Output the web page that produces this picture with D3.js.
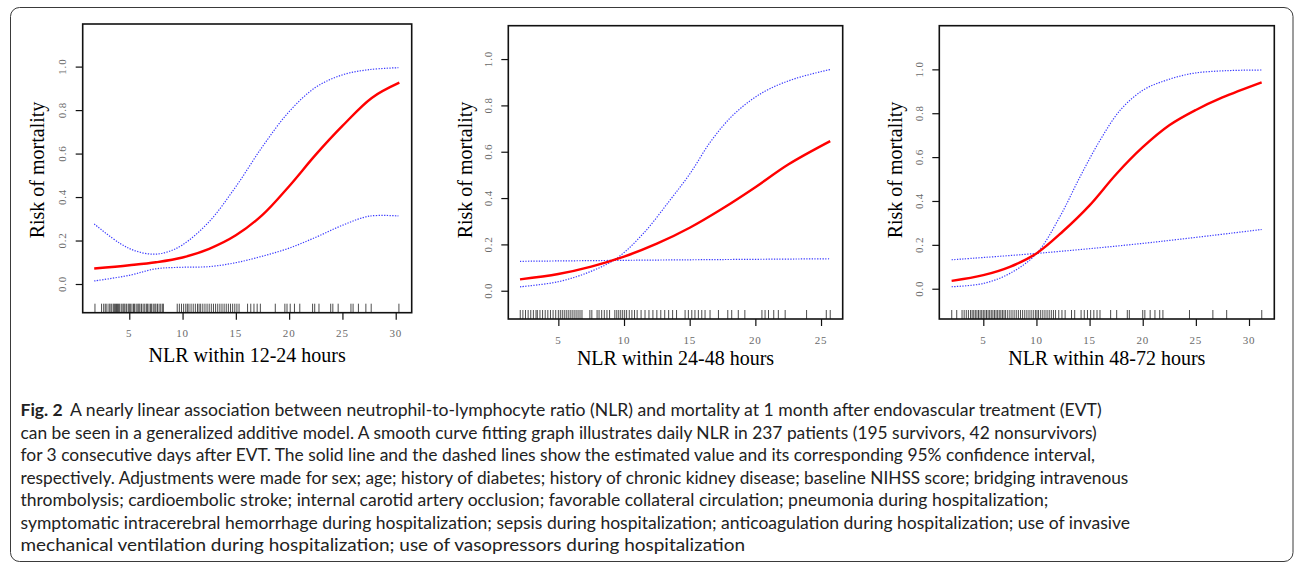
<!DOCTYPE html>
<html><head><meta charset="utf-8">
<script src="https://cdn.jsdelivr.net/npm/d3@7"></script>
<style>
html,body{margin:0;padding:0;background:#fff;}
svg{display:block;}
</style></head>
<body>
<svg id="chart" width="1295" height="566"></svg>
<script>
// ---------- DATA ----------
const yTicks = [0, 0.2, 0.4, 0.6, 0.8, 1.0];
const xTicks1 = [5, 10, 15, 20, 25, 30];
const xTicks2 = [5, 10, 15, 20, 25];
const xTicks3 = [5, 10, 15, 20, 25, 30];
const yTitle = "Risk of mortality";
const xTitles = ["NLR within 12-24 hours", "NLR within 24-48 hours", "NLR within 48-72 hours"];

// Panel 1: NLR within 12-24 hours
const est1 = [[1.71,0.071],[5,0.086],[7.5,0.10],[10,0.122],[12.5,0.162],[15,0.224],[17.5,0.318],[20,0.45],[22.5,0.595],[25,0.727],[27.75,0.856],[30.34,0.926]];
const upper1 = [[1.71,0.276],[4.12,0.187],[5.6,0.152],[7.25,0.137],[8.6,0.148],[10,0.18],[12.5,0.287],[15,0.448],[17.5,0.632],[20,0.793],[22.5,0.905],[25,0.962],[27.5,0.986],[30.25,0.995]];
const lower1 = [[1.71,0.014],[5,0.04],[7.5,0.07],[10,0.077],[12.5,0.08],[15,0.098],[17.5,0.128],[20,0.165],[22.5,0.215],[25,0.27],[27.5,0.312],[30.25,0.313]];
const rug1 = [1.78,2.4,2.6,2.75,2.9,3.1,3.2,3.35,3.5,3.6,3.7,3.8,3.9,4.0,4.1,4.25,4.4,4.5,4.6,4.75,4.9,5.0,5.1,5.25,5.4,5.5,5.65,5.8,5.9,6.0,6.15,6.3,6.45,6.6,6.7,6.85,7.0,7.1,7.25,7.4,7.5,7.65,7.8,7.95,8.1,8.2,
  9.5,9.7,9.9,10.1,10.3,10.45,10.6,10.8,11.0,11.2,11.4,11.55,11.7,11.9,12.1,12.3,12.5,12.7,12.9,13.1,13.3,13.5,13.7,13.9,14.1,14.3,14.5,14.7,14.9,15.1,15.3,16.1,16.4,16.7,17.0,17.3,
  18.7,19.6,19.8,20.1,20.5,21.0,22.2,22.4,22.8,23.9,24.1,24.6,25.8,26.0,26.5,27.2,27.7,30.3];

// Panel 2: NLR within 24-48 hours
const est2 = [[2.08,0.049],[5,0.072],[7.5,0.104],[10,0.147],[12.5,0.203],[15,0.272],[17.5,0.355],[20,0.447],[22.5,0.545],[25.7,0.646]];
const upper2 = [[2.08,0.017],[5,0.039],[7.41,0.082],[9.44,0.14],[11.47,0.247],[13.5,0.391],[15.03,0.506],[16.55,0.64],[18.07,0.745],[19.6,0.82],[21.1,0.872],[23.1,0.917],[25.7,0.955]];
const lower2 = [[2.08,0.127],[9.5,0.131],[16,0.134],[25.7,0.138]];
const rug2 = [2.1,2.3,2.5,2.7,2.9,3.1,3.3,3.4,3.6,3.8,4.0,4.2,4.4,4.6,4.8,5.0,5.15,5.3,5.45,5.6,5.75,5.9,6.05,6.2,6.35,6.5,6.65,6.8,7.4,7.55,7.95,8.1,8.3,8.5,8.7,8.9,9.3,9.45,9.6,9.75,9.9,10.05,10.2,10.4,10.6,10.8,11.0,11.3,11.6,11.9,12.2,12.5,12.8,13.1,13.4,13.7,14.0,
  14.65,14.9,15.16,15.4,15.66,15.92,16.17,16.55,17.19,17.9,18.2,18.7,19.2,20.5,20.74,21.0,21.4,21.75,22.27,23.9,25.4,25.7];

// Panel 3: NLR within 48-72 hours
const est3 = [[2.02,0.036],[5,0.062],[7.5,0.10],[10,0.161],[12.5,0.262],[15,0.38],[17.5,0.522],[20,0.645],[22.5,0.745],[25,0.815],[27.5,0.872],[31.19,0.941]];
const upper3 = [[2.02,0.009],[5,0.024],[7.51,0.07],[10.02,0.161],[12.2,0.328],[14.1,0.51],[16.0,0.678],[17.9,0.815],[20.06,0.906],[22.25,0.951],[24.76,0.982],[27.9,0.994],[31.19,0.997]];
const lower3 = [[2.02,0.132],[10.02,0.161],[20.06,0.207],[31.19,0.27]];
const rug3 = [2.03,2.5,3.0,3.2,3.4,3.6,3.8,3.95,4.1,4.25,4.4,4.55,4.7,4.85,5.0,5.15,5.3,5.45,5.6,5.75,5.9,6.05,6.2,6.35,6.5,6.65,6.8,6.95,7.1,7.3,7.5,7.7,7.9,8.1,8.3,8.5,8.7,8.9,9.1,9.3,9.5,9.7,9.9,10.05,10.2,10.4,10.6,10.8,11.0,11.2,11.4,11.6,11.8,12.1,12.4,12.7,13.3,13.6,14.2,14.5,14.8,15.1,15.4,15.7,15.98,
  16.98,17.55,18.55,18.74,20.0,20.2,20.7,21.15,21.6,21.9,24.4,26.6,27.9,31.2];

const captionBold = "Fig. 2";
const captionLines = [
  "A nearly linear association between neutrophil-to-lymphocyte ratio (NLR) and mortality at 1 month after endovascular treatment (EVT)",
  "can be seen in a generalized additive model. A smooth curve fitting graph illustrates daily NLR in 237 patients (195 survivors, 42 nonsurvivors)",
  "for 3 consecutive days after EVT. The solid line and the dashed lines show the estimated value and its corresponding 95% confidence interval,",
  "respectively. Adjustments were made for sex; age; history of diabetes; history of chronic kidney disease; baseline NIHSS score; bridging intravenous",
  "thrombolysis; cardioembolic stroke; internal carotid artery occlusion; favorable collateral circulation; pneumonia during hospitalization;",
  "symptomatic intracerebral hemorrhage during hospitalization; sepsis during hospitalization; anticoagulation during hospitalization; use of invasive",
  "mechanical ventilation during hospitalization; use of vasopressors during hospitalization"
];

// ---------- LAYOUT ----------
const panels = [
  {est: est1, upper: upper1, lower: lower1, rug: rug1, xt: xTicks1, title: xTitles[0],
   box: {x0: 82.7, x1: 411.7, y0: 24, y1: 312.7}, xd: [0.63, 31.5], yd: [-0.132, 1.196],
   ytx: 37, ylx: 61.7, xlb: 337, xtb: 362},
  {est: est2, upper: upper2, lower: lower2, rug: rug2, xt: xTicks2, title: xTitles[1],
   box: {x0: 508.3, x1: 842.7, y0: 25.7, y1: 319}, xd: [1.19, 26.65], yd: [-0.122, 1.144],
   ytx: 465, ylx: 488.3, xlb: 344, xtb: 365},
  {est: est3, upper: upper3, lower: lower3, rug: rug3, xt: xTicks3, title: xTitles[2],
   box: {x0: 939.3, x1: 1274.3, y0: 25.7, y1: 319}, xd: [0.86, 32.38], yd: [-0.138, 1.199],
   ytx: 895, ylx: 919.3, xlb: 344, xtb: 365}
];

const svg = d3.select("#chart");
svg.append("rect").attr("width", 1295).attr("height", 566).attr("fill", "#fff");
svg.append("rect").attr("x", 10.5).attr("y", 7.5).attr("width", 1282.5).attr("height", 554)
  .attr("rx", 9).attr("fill", "none").attr("stroke", "#3a3a3a").attr("stroke-width", 1);

const serif = "'Liberation Serif', 'Times New Roman', serif";

panels.forEach(p => {
  const x = d3.scaleLinear().domain(p.xd).range([p.box.x0, p.box.x1]);
  const y = d3.scaleLinear().domain(p.yd).range([p.box.y1, p.box.y0]);
  const g = svg.append("g");

  // rug
  g.append("g").selectAll("line").data(p.rug).join("line")
    .attr("x1", d => x(d)).attr("x2", d => x(d))
    .attr("y1", p.box.y1 - 9).attr("y2", p.box.y1)
    .attr("stroke", "#000").attr("stroke-opacity", 0.7).attr("stroke-width", 1);

  // y axis
  const yAxis = d3.axisLeft(y).tickValues(yTicks).tickSize(7).tickPadding(0).tickFormat(d3.format(".1f"));
  const ya = g.append("g").attr("transform", `translate(${p.box.x0},0)`).call(yAxis);
  ya.select(".domain").remove();
  ya.selectAll(".tick line").attr("stroke", "#111").attr("stroke-width", 1.2);
  ya.selectAll(".tick text").remove();
  g.append("g").selectAll("text").data(yTicks).join("text")
    .attr("transform", d => `translate(${p.ylx + 4},${y(d)}) rotate(-90)`)
    .attr("text-anchor", "middle").attr("font-family", serif).attr("font-size", 11)
    .attr("fill", "#6a6a6a").attr("letter-spacing", 0.8)
    .text(d => d3.format(".1f")(d));

  // x axis
  const xAxis = d3.axisBottom(x).tickValues(p.xt).tickSize(7).tickFormat("");
  const xa = g.append("g").attr("transform", `translate(0,${p.box.y1})`).call(xAxis);
  xa.select(".domain").remove();
  xa.selectAll(".tick line").attr("stroke", "#111").attr("stroke-width", 1.2);
  g.append("g").selectAll("text").data(p.xt).join("text")
    .attr("x", d => x(d)).attr("y", p.xlb)
    .attr("text-anchor", "middle").attr("font-family", serif).attr("font-size", 11)
    .attr("fill", "#6a6a6a").attr("letter-spacing", 0.8)
    .text(d => d);

  // box
  g.append("rect").attr("x", p.box.x0).attr("y", p.box.y0)
    .attr("width", p.box.x1 - p.box.x0).attr("height", p.box.y1 - p.box.y0)
    .attr("fill", "none").attr("stroke", "#111").attr("stroke-width", 1.6);

  const line = d3.line().x(d => x(d[0])).y(d => y(d[1])).curve(d3.curveCatmullRom.alpha(0.5));
  [p.upper, p.lower].forEach(ci => {
    g.append("path").datum(ci).attr("d", line).attr("fill", "none")
      .attr("stroke", "#3c3cff").attr("stroke-width", 1.2).attr("stroke-dasharray", "1.3,1.4");
  });
  g.append("path").datum(p.est).attr("d", line).attr("fill", "none")
    .attr("stroke", "#ff0000").attr("stroke-width", 2.4);

  // titles
  g.append("text").attr("transform", `translate(${p.ytx + 7},${170}) rotate(-90)`)
    .attr("text-anchor", "middle").attr("font-family", serif).attr("font-size", 20).attr("fill", "#000")
    .text(yTitle);
  g.append("text").attr("x", (p.box.x0 + p.box.x1) / 2).attr("y", p.xtb)
    .attr("text-anchor", "middle").attr("font-family", serif).attr("font-size", 20).attr("fill", "#000")
    .text(p.title);
});

// caption
const capFont = "Lato, 'Noto Sans', sans-serif";
const capX = 20.5, capY0 = 416, capDy = 22.5;
const lineEnds = [1101.7, 1096.7, 1095, 1128.3, 1048.3, 1130, 745];
captionLines.forEach((t, i) => {
  const txt = svg.append("text").attr("y", capY0 + i * capDy)
    .attr("font-family", capFont).attr("font-size", 17.5).attr("fill", "#222");
  if (i === 0) {
    txt.append("tspan").attr("x", capX).attr("font-weight", "bold").text(captionBold);
    txt.append("tspan").attr("x", 70).text(t)
      .attr("textLength", lineEnds[i] - 70).attr("lengthAdjust", "spacingAndGlyphs");
  } else {
    txt.append("tspan").attr("x", capX).text(t)
      .attr("textLength", lineEnds[i] - capX).attr("lengthAdjust", "spacingAndGlyphs");
  }
});
</script>
</body></html>
